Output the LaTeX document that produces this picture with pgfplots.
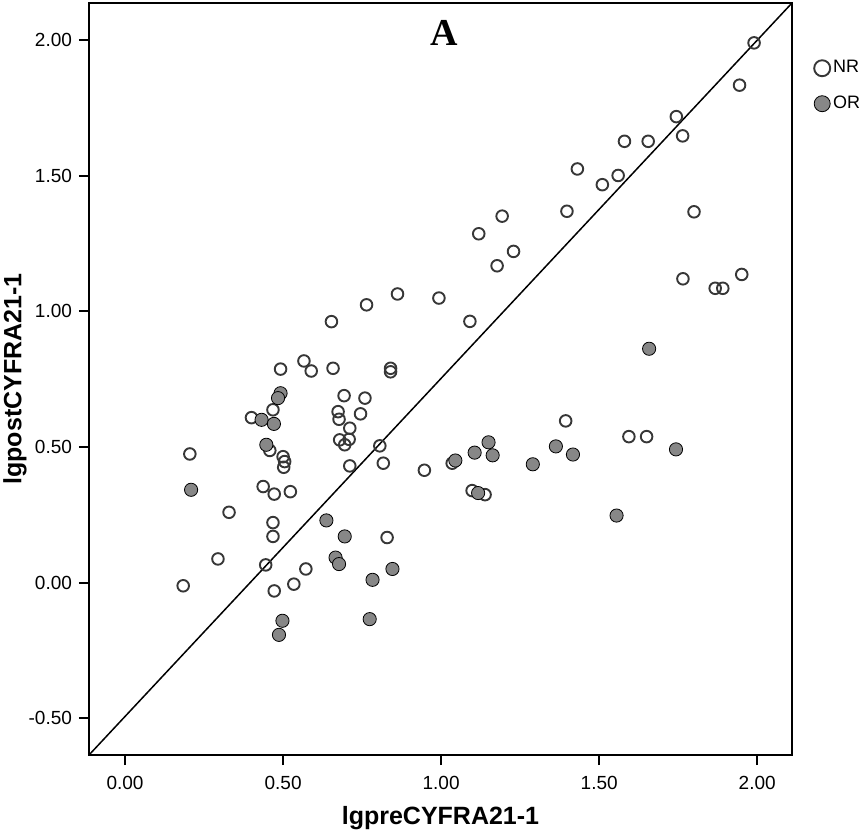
\documentclass[border=0pt]{standalone}
\usepackage{pgfplots}
\pgfplotsset{compat=1.18}
\usepackage{fontspec}
\setmainfont{Liberation Sans}
\newfontfamily\seriffont{Liberation Serif}
\definecolor{opengray}{RGB}{55,55,55}
\definecolor{fillgray}{RGB}{135,135,135}
\begin{document}
\begin{tikzpicture}
\begin{axis}[
  scale only axis,
  width=351.5pt, height=376pt,
  xmin=-0.114, xmax=2.11,
  ymin=-0.636, ymax=2.137,
  xtick={0,0.5,1,1.5,2},
  ytick={-0.5,0,0.5,1,1.5,2},
  tick align=outside,
  major tick length=5pt,
  xtick pos=bottom, ytick pos=left,
  axis line style={line width=1pt},
  tick style={line width=1pt, black},
  /pgf/number format/.cd, fixed, fixed zerofill, precision=2, assume math mode=true,
  /pgfplots/.cd,
  ticklabel style={font=\fontsize{9.5pt}{11pt}\selectfont},
  xticklabel style={yshift=-2pt},
  xlabel={\textbf{lgpreCYFRA21-1}},
  ylabel={\textbf{lgpostCYFRA21-1}},
  label style={font=\fontsize{12.5pt}{14pt}\selectfont},
  xlabel style={at={(rel axis cs:0.5,0)}, anchor=center, yshift=-31.5pt},
  ylabel style={at={(rel axis cs:0,0.5)}, anchor=center, xshift=0pt, yshift=37pt},
  legend style={at={(rel axis cs:1.031,0.928)}, anchor=north west, draw=none, fill=none,
     font=\fontsize{9pt}{10pt}\selectfont, row sep=7pt, inner sep=0pt,
     nodes={inner sep=1.5pt}},
  legend cell align=left,
  legend image code/.code={\draw[#1, mark size=4pt] plot coordinates {(0.14cm,0cm)};},
  clip=false,
]
\addplot[only marks, mark=o, mark size=2.9pt, draw=opengray, line width=0.95pt] coordinates {
(1.99,1.99) (1.944,1.834) (1.744,1.718) (1.764,1.647) (1.580,1.627) (1.655,1.627)
(1.431,1.525) (1.560,1.501) (1.510,1.467) (1.398,1.369) (1.800,1.367) (1.193,1.351)
(1.119,1.286) (1.229,1.221) (1.177,1.168) (1.765,1.120) (1.867,1.085) (1.891,1.085)
(1.951,1.136) (0.862,1.064) (0.993,1.049) (0.764,1.024) (1.091,0.963) (0.653,0.962)
(0.566,0.817) (0.589,0.780) (0.658,0.790) (0.492,0.787) (0.840,0.790) (0.840,0.777)
(0.693,0.689) (0.759,0.680) (0.674,0.630) (0.677,0.602) (0.745,0.622) (0.468,0.637)
(0.400,0.608) (0.711,0.569) (0.679,0.526) (0.709,0.528) (0.695,0.508) (0.806,0.504)
(1.394,0.596) (1.594,0.538) (1.650,0.538) (0.205,0.474) (0.458,0.487) (0.500,0.464)
(0.505,0.446) (0.502,0.425) (0.711,0.430) (0.817,0.440) (0.947,0.414) (1.035,0.440)
(0.437,0.354) (0.472,0.326) (0.523,0.335) (1.098,0.339) (1.139,0.324) (0.329,0.259)
(0.468,0.221) (0.468,0.170) (0.829,0.166) (0.294,0.087) (0.445,0.065) (0.572,0.050)
(0.184,-0.012) (0.472,-0.031) (0.534,-0.006)
};
\addlegendentry{NR}
\addplot[only marks, mark=*, mark size=3.3pt, draw=none, fill=fillgray, mark options={draw=none, fill=fillgray}] coordinates {
(1.658,0.862) (1.743,0.491) (1.555,0.247) (1.363,0.502) (1.417,0.472) (1.290,0.436)
(1.150,0.517) (1.163,0.469) (1.106,0.479) (1.045,0.450) (1.117,0.330) (0.637,0.229)
(0.695,0.170) (0.666,0.092) (0.677,0.068) (0.783,0.010) (0.846,0.050) (0.774,-0.135)
(0.498,-0.141) (0.487,-0.193) (0.209,0.342) (0.432,0.600) (0.471,0.585) (0.447,0.508)
(0.492,0.698) (0.484,0.680)
};
\addlegendentry{OR}
\addplot[black, line width=0.75pt, no marks, forget plot] coordinates {(-0.114,-0.636) (2.11,2.137)};
\node[font=\seriffont\bfseries\fontsize{19pt}{21pt}\selectfont] at (rel axis cs:0.506,0.960) {A};
\end{axis}
\pgfresetboundingbox
\path (current axis.south west) ++(-44.5pt,-42pt) coordinate (bl);
\path (current axis.north east) ++(36.5pt,1.5pt) coordinate (tr);
\path[use as bounding box] (bl) rectangle (tr);
\end{tikzpicture}
\end{document}
